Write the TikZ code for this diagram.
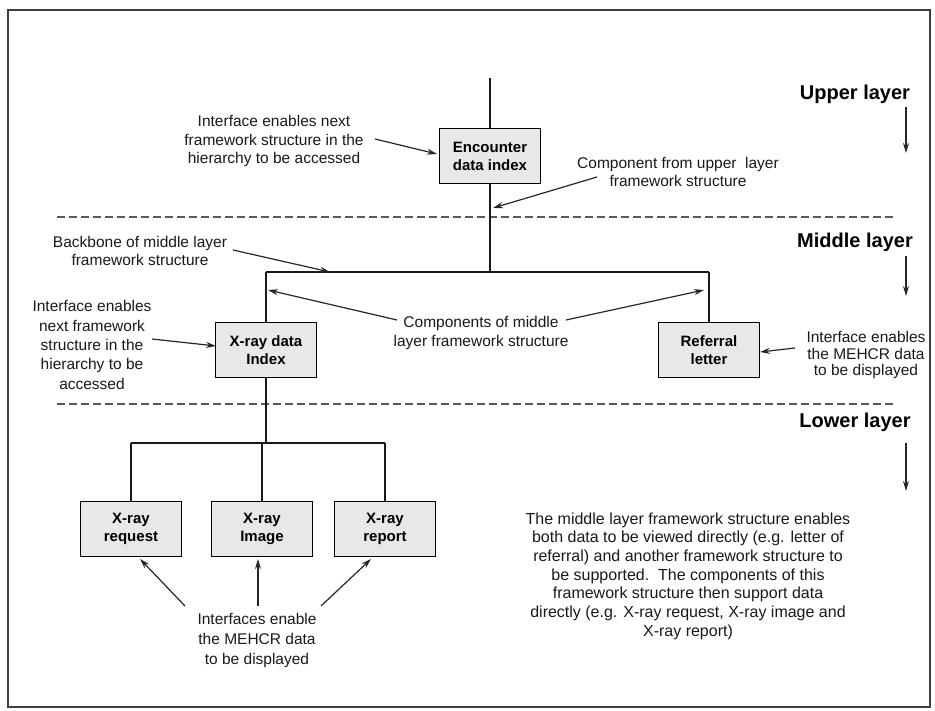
\documentclass[tikz,border=0pt]{standalone}
\usepackage{fontspec}
\setmainfont{Liberation Sans}
\usetikzlibrary{arrows.meta}
\begin{document}
\begin{tikzpicture}[x=1pt,y=-1pt,
  every node/.style={inner sep=0pt,outer sep=0pt},
  comp/.style={draw=black,line width=1.2pt,fill=black!9,minimum width=101pt,minimum height=55pt,
    align=center,font=\bfseries\fontsize{15}{18}\selectfont},
  note/.style={align=center,font=\fontsize{15.5}{18.5}\selectfont,text=black!90},
  layerlbl/.style={font=\bfseries\fontsize{20}{24}\selectfont},
  link/.style={line width=1.2pt,black!90},
  pointer/.style={line width=1.2pt,black!85,-{Stealth[length=10pt,width=6pt]}},
  divider/.style={line width=1.1pt,black!65,dash pattern=on 8pt off 4pt}]
\useasboundingbox (0,0) rectangle (935,711);
% outer frame
\draw[line width=1.5pt,black!75] (8,10) rectangle (930,707);

% layer dividers
\coordinate (d1a) at (57,217);  \coordinate (d1b) at (895,217);
\coordinate (d2a) at (57,404);  \coordinate (d2b) at (895,404);
\draw[divider] (d1a) -- (d1b);
\draw[divider] (d2a) -- (d2b);

% layer labels with their downward arrows
\node[layerlbl] (up) at (855,94) {Upper layer};
\node[layerlbl] (mid) at (855,242) {Middle layer};
\node[layerlbl] (low) at (855,422) {Lower layer};
\coordinate (ua1) at (906,107); \coordinate (ua2) at (906,153);
\coordinate (ma1) at (906,256); \coordinate (ma2) at (906,296);
\coordinate (la1) at (906,443); \coordinate (la2) at (906,491);
\draw[pointer] (ua1) -- (ua2);
\draw[pointer] (ma1) -- (ma2);
\draw[pointer] (la1) -- (la2);

% framework components
\node[comp] (enc) at (490,156) {Encounter\\data index};
\node[comp] (xidx) at (266,350) {X-ray data\\Index};
\node[comp] (ref) at (709,350) {Referral\\letter};
\node[comp] (xreq) at (131,529) {X-ray\\request};
\node[comp] (ximg) at (262,529) {X-ray\\Image};
\node[comp] (xrep) at (385,529) {X-ray\\report};

% structure lines
\coordinate (top) at (490,78);
\coordinate (bbm) at (490,272);
\coordinate (bbl) at (266,272);
\coordinate (bbr) at (709,272);
\coordinate (lwm) at (262,443);
\coordinate (lwl) at (131,443);
\coordinate (lwr) at (385,443);
\draw[link] (top) -- (enc.north);
\draw[link] (enc.south) -- (bbm);
\draw[link] (bbl) -- (bbr);
\draw[link] (bbl) -- (xidx.north);
\draw[link] (bbr) -- (ref.north);
\draw[link] (xidx.south) -- (xidx.south |- lwm);
\draw[link] (lwl) -- (lwr);
\draw[link] (lwl) -- (xreq.north);
\draw[link] (lwm) -- (ximg.north);
\draw[link] (lwr) -- (xrep.north);

% annotations
\node[note] (n1) at (274,141) {Interface enables next\\framework structure in the\\hierarchy to be accessed};
\coordinate (n1s) at (375,139); \coordinate (n1t) at (437,154);
\draw[pointer] (n1s) -- (n1t);

\node[note] (n2) at (678,172) {Component from upper\ \ layer\\framework structure};
\coordinate (n2s) at (597,177); \coordinate (n2t) at (493,208);
\draw[pointer] (n2s) -- (n2t);

\node[note] (n3) at (140,251) {Backbone of middle layer\\framework structure};
\coordinate (n3s) at (233,250); \coordinate (n3t) at (330,272);
\draw[pointer] (n3s) -- (n3t);

\node[note] (n4) at (481,333) {Components of middle\\layer framework structure};
\coordinate (n4s) at (397,320); \coordinate (n4t) at (268,290);
\coordinate (n4r) at (566,320); \coordinate (n4u) at (704,290);
\draw[pointer] (n4s) -- (n4t);
\draw[pointer] (n4r) -- (n4u);

\node[note,font=\fontsize{15.5}{19.3}\selectfont] (n5) at (92,345) {Interface enables\\next framework\\structure in the\\hierarchy to be\\accessed};
\coordinate (n5s) at (152,339); \coordinate (n5t) at (216,346);
\draw[pointer] (n5s) -- (n5t);

\node[note,font=\fontsize{15.5}{16.5}\selectfont] (n6) at (866,355) {Interface enables\\the MEHCR data\\to be displayed};
\coordinate (n6s) at (795,348); \coordinate (n6t) at (760,352);
\draw[pointer] (n6s) -- (n6t);

\node[note,font=\fontsize{15.5}{20}\selectfont] (n7) at (257,640) {Interfaces enable\\the MEHCR data\\to be displayed};
\coordinate (n7a) at (185,606); \coordinate (n7b) at (140,559);
\coordinate (n7c) at (258,606); \coordinate (n7d) at (258,559);
\coordinate (n7e) at (321,606); \coordinate (n7f) at (371,559);
\draw[pointer] (n7a) -- (n7b);
\draw[pointer] (n7c) -- (n7d);
\draw[pointer] (n7e) -- (n7f);

\node[note,font=\fontsize{16}{18.7}\selectfont] (n8) at (688,576) {The middle layer framework structure enables\\both data to be viewed directly (e.g. letter of\\referral) and another framework structure to\\be supported.\ \ The components of this\\framework structure then support data\\directly (e.g. X-ray request, X-ray image and\\X-ray report)};
\end{tikzpicture}
\end{document}
